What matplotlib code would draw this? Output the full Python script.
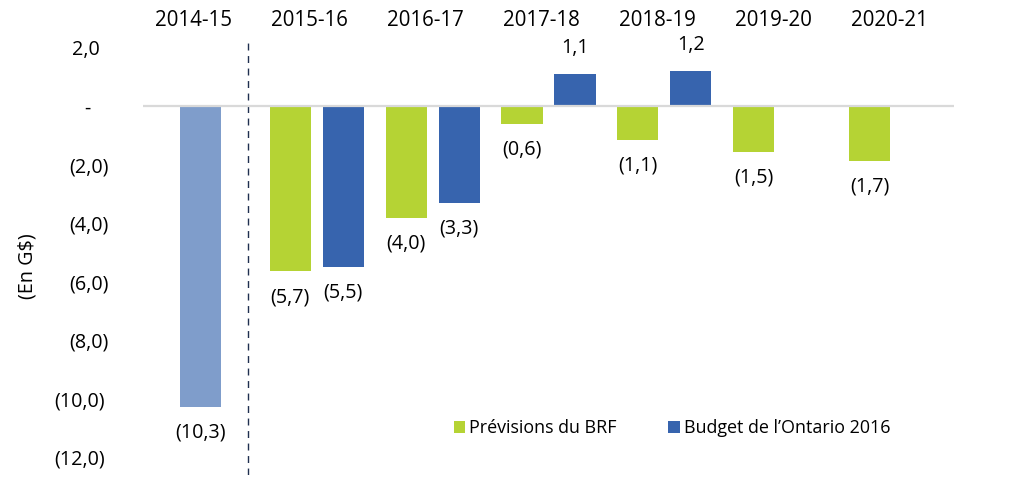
import matplotlib
matplotlib.use("Agg")
import matplotlib.pyplot as plt
import matplotlib.transforms as mtransforms
import numpy as np

plt.rcParams['font.family'] = ['Open Sans', 'DejaVu Sans']

# ---- data ----
categories = ["2014-15", "2015-16", "2016-17", "2017-18", "2018-19", "2019-20", "2020-21"]
actual_value = [-10.27]
actual_label = ["(10,3)"]
brf_values = [-5.65, -3.83, -0.62, -1.15, -1.58, -1.87]      # 2015-16 .. 2020-21
brf_labels = ["(5,7)", "(4,0)", "(0,6)", "(1,1)", "(1,5)", "(1,7)"]
budget_values = [-5.5, -3.3, 1.1, 1.2]                        # 2015-16 .. 2018-19
budget_labels = ["(5,5)", "(3,3)", "1,1", "1,2"]
yticks = [2, 0, -2, -4, -6, -8, -10, -12]
ytick_labels = ["2,0", "-", "(2,0)", "(4,0)", "(6,0)", "(8,0)", "(10,0)", "(12,0)"]
legend_labels = ["Prévisions du BRF", "Budget de l’Ontario 2016"]

GREEN = "#B5D334"
BLUE = "#3764AE"
LIGHT = "#7F9DCB"
TEXT = "#000000"
FS = 14.2
FS_CAT = 14.8
FS_LEG = 12.9

W, H = 1009, 483
fig = plt.figure(figsize=(W / 100, H / 100), dpi=100)
ax = fig.add_axes([143 / W, 1 - 475 / H, (954 - 143) / W, (475 - 43) / H])
ax.set_xlim(-0.5, 6.5)
ax.set_ylim(-12.6, 2.15)

bw = 0.355
off = 0.229

x_actual = np.array([0])
x_brf = np.arange(1, 1 + len(brf_values))
x_budget = np.arange(1, 1 + len(budget_values))

b0 = ax.bar(x_actual, actual_value, width=bw, color=LIGHT, zorder=2)
b1 = ax.bar(x_brf - off, brf_values, width=bw, color=GREEN, zorder=2, label=legend_labels[0])
b2 = ax.bar(x_budget + off, budget_values, width=bw, color=BLUE, zorder=2, label=legend_labels[1])

ax.axhline(0, color="#D9D9D9", lw=1.6, zorder=3)

# dashed separator between 2014-15 and projections
ax.axvline(0.41, color="#1F2F4F", lw=1.0, ls=(0, (5, 4)), zorder=1)

def label_bars(xs, vals, labels):
    for x, v, lab in zip(xs, vals, labels):
        dy = 18.4 if v >= 0 else -18.4
        ax.annotate(lab, (x, v), xytext=(0, dy), textcoords="offset points",
                    ha="center", va="center", fontsize=FS, color=TEXT)

label_bars(x_actual, actual_value, actual_label)
label_bars(x_brf - off, brf_values, brf_labels)
label_bars(x_budget + off, budget_values, budget_labels)

# category labels on top
trans = mtransforms.blended_transform_factory(ax.transData, ax.transAxes)
shift = mtransforms.ScaledTranslation(-7 / 100, 0, fig.dpi_scale_trans)
for i, c in enumerate(categories):
    ax.text(i, 1 + 23 / 432, c, transform=trans + shift, ha="center", va="center",
            fontsize=FS_CAT, color=TEXT)

# y tick labels
ax.set_yticks(yticks)
ax.set_yticklabels(ytick_labels)
ax.tick_params(axis="y", length=0, pad=24.5, labelsize=FS, labelcolor=TEXT)
ax.set_xticks([])
extra = {"2,0": -9, "-": -18, "(10,0)": -4, "(12,0)": -4}
for t in ax.get_yticklabels():
    dx = extra.get(t.get_text(), 0)
    if dx:
        t.set_transform(t.get_transform() + mtransforms.ScaledTranslation(dx / 100, 0, fig.dpi_scale_trans))

for s in ax.spines.values():
    s.set_visible(False)

fig.text(27 / W, 1 - 266 / H, "(En G$)", rotation=90, ha="center", va="center",
         fontsize=FS, color=TEXT)

leg = fig.legend(handles=[b1, b2], labels=legend_labels, loc="center",
                 bbox_to_anchor=(672 / W, 1 - 428 / H), ncol=2, frameon=False,
                 fontsize=FS_LEG, handlelength=0.65, handleheight=0.65, handletextpad=0.2,
                 columnspacing=2.9, labelcolor=TEXT)

fig.savefig("out.png", dpi=100)
